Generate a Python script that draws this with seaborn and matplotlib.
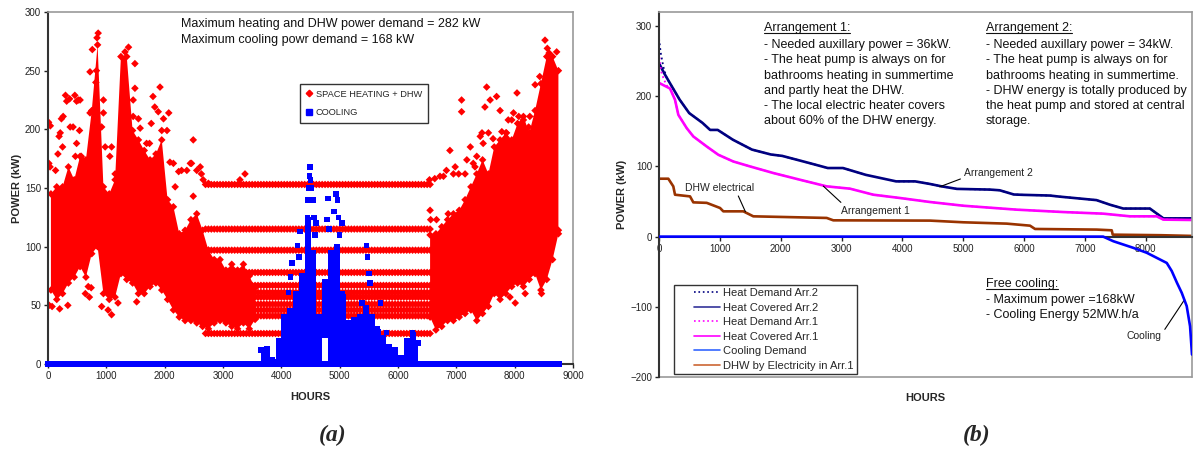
import numpy as np
import matplotlib
matplotlib.use('Agg')
import matplotlib.pyplot as plt
from matplotlib.lines import Line2D
from matplotlib.legend_handler import HandlerLine2D
import seaborn as sns

sns.set_style('white')
plt.rcParams['font.family'] = ['Liberation Sans', 'DejaVu Sans']

NA = np.nan

# ---------------- (a) hourly power demand ----------------
# dense part of the heating cloud, per 100 h bin (bottom / top of the solid area)
BIN_HOURS = list(range(50, 8800, 100))
HEAT_LOW = [63, 55, 60, 69, 74, 83, 74, 94, 100, 60,
            55, 57, 77, 72, 69, 60, 60, 66, 69, 63,
            55, 46, 40, 37, 37, 35, 32, 30, 35, 37,
            35, 32, 30, 35, 30, 38] + [NA] * 29 + \
           [40, 29, 32, 37, 37,
            40, 43, 46, 37, 43, 49, 60, 55, 60, 66,
            69, 66, 72, 77, 63, 72, 89, 111]
HEAT_HIGH = [145, 151, 151, 168, 157, 177, 174, 216, 272, 151,
             145, 157, 262, 262, 199, 191, 182, 174, 179, 191,
             140, 134, 111, 114, 123, 128, 114, 97, 89, 89,
             80, 85, 80, 85, 75, 65] + [NA] * 29 + \
            [110, 111, 117, 123, 128,
             131, 140, 151, 162, 174, 162, 185, 191, 197, 191,
             205, 211, 197, 216, 239, 262, 262, 250]
# scattered heating hours outside the dense part (hour, kW)
HEAT_EXTRA = [(10, 206), (40, 203), (15, 171), (35, 168), (20, 50), (70, 49),
              (130, 165), (170, 179), (190, 194), (230, 209), (260, 211), (210, 197),
              (250, 185), (200, 47), (300, 229), (320, 224), (370, 226), (380, 202),
              (340, 50), (430, 202), (460, 229), (490, 224), (490, 188), (470, 177),
              (520, 225), (550, 225), (540, 199), (570, 177), (600, 174), (640, 60),
              (690, 66), (660, 162), (720, 249), (720, 214), (760, 268), (710, 57),
              (740, 65), (840, 278), (860, 282), (830, 250), (820, 240), (950, 225),
              (950, 214), (920, 202), (980, 185), (920, 49), (1030, 46), (1090, 42),
              (1060, 177), (1090, 185), (1150, 162), (1200, 52), (1320, 266), (1380, 270),
              (1490, 256), (1490, 235), (1460, 225), (1460, 211), (1550, 209), (1580, 201),
              (1520, 53), (1690, 188), (1660, 151), (1800, 228), (1830, 219), (1770, 205),
              (1740, 188), (1920, 236), (1890, 215), (1950, 199), (1980, 209), (2040, 199),
              (2070, 214), (2090, 172), (2150, 171), (2180, 151), (2240, 164), (2290, 165),
              (2380, 165), (2440, 171), (2490, 191), (2460, 171), (2490, 143), (2550, 165),
              (2610, 168), (2660, 157), (2630, 162), (2750, 154), (3290, 157), (3377, 162),
              (6540, 157), (6550, 131), (6560, 123), (6630, 158), (6720, 160), (6660, 123),
              (6780, 160), (6830, 165), (6890, 182), (6860, 128), (6950, 162), (6980, 168),
              (7090, 225), (7090, 215), (7040, 162), (7150, 162), (7180, 174), (7240, 185),
              (7290, 171), (7320, 168), (7350, 177), (7410, 194), (7440, 197), (7460, 188),
              (7490, 219), (7520, 236), (7580, 225), (7550, 197), (7690, 228), (7630, 192),
              (7750, 216), (7780, 198), (7860, 197), (7890, 208), (7980, 214), (7950, 208),
              (7920, 57), (8040, 231), (8070, 211), (8010, 52), (8150, 208), (8180, 60),
              (8240, 202), (8260, 211), (8350, 238), (8380, 211), (8430, 245), (8460, 60),
              (8520, 276), (8560, 269), (8590, 265), (8720, 266), (8750, 114)]
# summer plateaus of the heating demand
BAND_LEVELS = [153, 115, 97, 78, 67, 61, 57, 51, 46, 41, 26]
BAND_HOURS = list(range(2700, 6551, 50))

# cooling, per 100 h bin
COOL_HOURS = list(range(3650, 6400, 100))
COOL_LOW = [0, 0, 0, 0, 0, 0, 0, 0, 0, 0, 0, 22, 0, 0,
            0, 0, 0, 0, 0, 0, 0, 0, 0, 0, 0, 0, 0, 0]
COOL_HIGH = [12, 13, 4, 20, 40, 45, 60, 75, 125, 95, 40, 70, 95, 100,
             60, 35, 38, 40, 48, 40, 30, 22, 15, 12, 5, 20, 27, 18]
COOL_EXTRA = [(4120, 61), (4160, 74), (4180, 86), (4300, 91), (4320, 113), (4280, 101),
              (4460, 140), (4470, 150), (4480, 160), (4490, 168), (4500, 157), (4520, 150),
              (4540, 140), (4560, 125), (4580, 110), (4590, 120), (4780, 123), (4800, 141),
              (4820, 115), (4900, 130), (4940, 145), (4960, 140), (4980, 125), (5000, 110),
              (5040, 120), (5380, 52), (5460, 101), (5480, 91), (5500, 77), (5520, 69),
              (5700, 52), (5800, 27)]
ZERO_HOURS = list(range(0, 8800, 40))

# ---------------- (b) duration curves ----------------
ARR2_COVER_H = [0, 90, 184, 340, 496, 715, 840, 965, 1215, 1527, 1838, 2025, 2462, 2774,
                3024, 3398, 3897, 4209, 4454, 4645, 4895, 5440, 5600, 5832, 5985, 6425,
                6580, 6971, 7190, 7410, 7630, 8068, 8290, 8760]
ARR2_COVER_V = [247, 232, 218, 195, 176, 162, 152, 152, 138, 124, 117, 115, 105, 97.7,
                97.7, 88, 78.7, 78.7, 75, 71.6, 68, 67, 66, 60, 59.5, 58.5,
                57, 53.8, 52, 45.5, 40, 40, 26, 26]
ARR2_DEMAND_HEAD_H = [0, 28, 71, 126]
ARR2_DEMAND_HEAD_V = [282, 262, 242, 226]
ARR1_COVER_H = [0, 181, 263, 318, 455, 564, 784, 975, 1222, 1496, 1879, 2318, 2756, 3139,
                3523, 3961, 4454, 5002, 5879, 6646, 7303, 7742, 8180, 8290, 8760]
ARR1_COVER_V = [219, 211, 195, 173.5, 154.6, 142.7, 128.4, 116.6, 107, 100, 90.6, 81, 71.6,
                68.3, 59.7, 55, 49.3, 44, 38.4, 35, 32.7, 28.9, 28.9, 24.2, 23.7]
ARR1_DEMAND_HEAD_H = [0, 15, 40, 80, 130]
ARR1_DEMAND_HEAD_V = [262, 248, 234, 224, 215]
DHW_H = [0, 153, 235, 263, 510, 564, 784, 1003, 1057, 1386, 1550, 2756, 2865, 4454, 5002,
         5715, 6098, 6180, 7194, 7441, 7457, 8250, 8760]
DHW_V = [82.5, 82.5, 71.6, 59.7, 57.3, 48.8, 48.1, 40.8, 36, 36, 28.9, 26.6, 23.2, 22.8,
         20.4, 18.5, 15.6, 10.9, 10, 9, 2.8, 2, 1]
COOL_DUR_H = [0, 7300, 7468, 7796, 8016, 8345, 8427, 8514, 8591, 8673, 8728, 8760]
COOL_DUR_V = [0, 0, -6.6, -16, -23, -37.5, -49, -66, -80, -99, -127.6, -168]

RED = '#FF0000'
BLUE = '#0000FF'
NAVY = '#000080'
MAGENTA = '#FF00FF'
BROWN = '#993300'
DARK = '#333333'
GREY = '#999999'


class ShortLine(HandlerLine2D):
    # legend line that leaves an empty gap on its left, as in the Excel legend
    def create_artists(self, legend, orig_handle, xdescent, ydescent, width, height,
                       fontsize, trans):
        gap = 12
        return super().create_artists(legend, orig_handle, xdescent - gap, ydescent,
                                      width - gap, height, fontsize, trans)


W, H = 1194, 451
fig = plt.figure(figsize=(W / 100, H / 100), dpi=100)
ax1 = fig.add_axes([48 / W, 1 - 364 / H, 525 / W, 352 / H])
ax2 = fig.add_axes([659 / W, 1 - 377 / H, 533 / W, 365 / H])

# ---- panel (a)
DS = 15
ax1.fill_between(BIN_HOURS, HEAT_LOW, HEAT_HIGH, color=RED, lw=0, zorder=2)
edge_h = BIN_HOURS + BIN_HOURS
edge_v = HEAT_LOW + HEAT_HIGH
sns.scatterplot(x=edge_h, y=edge_v, marker='D', s=DS, color=RED, edgecolor='none',
                linewidth=0, ax=ax1, zorder=2)
sns.scatterplot(x=[p[0] for p in HEAT_EXTRA], y=[p[1] for p in HEAT_EXTRA], marker='D',
                s=DS, color=RED, edgecolor='none', linewidth=0, ax=ax1, zorder=2)
for lev in BAND_LEVELS:
    sns.scatterplot(x=BAND_HOURS, y=[lev] * len(BAND_HOURS), marker='D', s=DS, color=RED,
                    edgecolor='none', linewidth=0, ax=ax1, zorder=2)

ax1.fill_between(COOL_HOURS, COOL_LOW, COOL_HIGH, step='mid', color=BLUE, lw=0, zorder=3)
sns.scatterplot(x=COOL_HOURS, y=COOL_HIGH, marker='s', s=16, color=BLUE, edgecolor='none',
                linewidth=0, ax=ax1, zorder=3)
sns.scatterplot(x=[p[0] for p in COOL_EXTRA], y=[p[1] for p in COOL_EXTRA], marker='s',
                s=16, color=BLUE, edgecolor='none', linewidth=0, ax=ax1, zorder=3)
sns.scatterplot(x=ZERO_HOURS, y=[0] * len(ZERO_HOURS), marker='s', s=20, color=BLUE,
                edgecolor='none', linewidth=0, ax=ax1, zorder=3, clip_on=False)

ax1.set_xlim(0, 9000)
ax1.set_ylim(0, 300)
ax1.set_xticks(range(0, 9001, 1000))
ax1.set_yticks(range(0, 301, 50))
ax1.set_xlabel('HOURS', fontsize=8, fontweight='bold', labelpad=8)
ax1.set_ylabel('POWER (kW)', fontsize=8, fontweight='bold', labelpad=2)

ax1.text(2280, 290, 'Maximum heating and DHW power demand = 282 kW', fontsize=9,
         va='center', color='#111111')
ax1.text(2280, 276, 'Maximum cooling powr demand = 168 kW', fontsize=9,
         va='center', color='#111111')

leg1_handles = [Line2D([], [], ls='none', marker='D', ms=3.3, color=RED),
                Line2D([], [], ls='none', marker='s', ms=4, color=BLUE)]
leg1 = ax1.legend(leg1_handles, ['SPACE HEATING + DHW', 'COOLING'], loc='upper left',
                  bbox_to_anchor=(0.48, 0.795), fontsize=6.7, frameon=True, fancybox=False,
                  edgecolor='black', handlelength=0.8, handletextpad=0.3, labelspacing=1.0,
                  borderpad=0.6, borderaxespad=0)
leg1.get_frame().set_linewidth(1.0)
leg1.set_zorder(5)

# ---- panel (b)
sns.lineplot(x=ARR2_DEMAND_HEAD_H + ARR2_COVER_H[2:], y=ARR2_DEMAND_HEAD_V + ARR2_COVER_V[2:],
             sort=False, estimator=None, color=NAVY, lw=1.3, linestyle=':', ax=ax2)
sns.lineplot(x=ARR2_COVER_H, y=ARR2_COVER_V, sort=False, estimator=None, color=NAVY, lw=1.9,
             ax=ax2)
sns.lineplot(x=ARR1_DEMAND_HEAD_H + ARR1_COVER_H[1:], y=ARR1_DEMAND_HEAD_V + ARR1_COVER_V[1:],
             sort=False, estimator=None, color=MAGENTA, lw=1.3, linestyle=':', ax=ax2)
sns.lineplot(x=ARR1_COVER_H, y=ARR1_COVER_V, sort=False, estimator=None, color=MAGENTA,
             lw=1.9, ax=ax2)
sns.lineplot(x=COOL_DUR_H, y=COOL_DUR_V, sort=False, estimator=None, color=BLUE, lw=1.9,
             ax=ax2, zorder=4)
sns.lineplot(x=DHW_H, y=DHW_V, sort=False, estimator=None, color=BROWN, lw=1.9, ax=ax2)

ax2.set_xlim(0, 8760)
ax2.set_ylim(-200, 320)
ax2.set_xticks(range(0, 8001, 1000))
ax2.set_yticks(range(-200, 301, 100))
ax2.spines['bottom'].set_position(('data', 0))
ax2.axhline(-200, color=GREY, lw=1.2, clip_on=False, zorder=1)
ax2.set_xlabel('HOURS', fontsize=8, fontweight='bold')
ax2.xaxis.set_label_coords(0.5, -0.045)
ax2.set_ylabel('POWER (kW)', fontsize=8, fontweight='bold', labelpad=2)

leg2_handles = [Line2D([], [], color=NAVY, lw=1.2, ls=':'),
                Line2D([], [], color='#333399', lw=1.2),
                Line2D([], [], color=MAGENTA, lw=1.2, ls=':'),
                Line2D([], [], color=MAGENTA, lw=1.2),
                Line2D([], [], color='#3366FF', lw=1.2),
                Line2D([], [], color='#CC6633', lw=1.2)]
leg2_labels = ['Heat Demand Arr.2', 'Heat Covered Arr.2', 'Heat Demand Arr.1',
               'Heat Covered Arr.1', 'Cooling Demand', 'DHW by Electricity in Arr.1']
leg2 = ax2.legend(leg2_handles, leg2_labels, loc='upper left', bbox_to_anchor=(0.028, 0.252),
                  fontsize=8, frameon=True, fancybox=False, edgecolor='black',
                  handlelength=3.85, handletextpad=0.25, labelspacing=0.4, borderpad=0.3,
                  borderaxespad=0, handler_map={Line2D: ShortLine()})
leg2.get_frame().set_linewidth(1.0)

block1 = ('- Needed auxillary power = 36kW.\n- The heat pump is always on for\n'
          'bathrooms heating in summertime\nand partly heat the DHW.\n'
          '- The local electric heater covers\nabout 60% of the DHW energy.')
block2 = ('- Needed auxillary power = 34kW.\n- The heat pump is always on for\n'
          'bathrooms heating in summertime.\n- DHW energy is totally produced by\n'
          'the heat pump and stored at central\nstorage.')
block3 = '- Maximum power =168kW\n- Cooling Energy 52MW.h/a'
heads = []
heads.append(ax2.text(1726, 297, 'Arrangement 1:', fontsize=9, va='center', color='#111111'))
ax2.text(1726, 281.5, block1, fontsize=9, va='top', linespacing=1.36, color='#111111')
heads.append(ax2.text(5375, 297, 'Arrangement 2:', fontsize=9, va='center', color='#111111'))
ax2.text(5375, 281.5, block2, fontsize=9, va='top', linespacing=1.36, color='#111111')
heads.append(ax2.text(5375, -67, 'Free cooling:', fontsize=9, va='center', color='#111111'))
ax2.text(5375, -81.5, block3, fontsize=9, va='top', linespacing=1.36, color='#111111')

arrow = dict(arrowstyle='-', color='black', lw=0.8, shrinkA=0, shrinkB=0)
ax2.annotate('Arrangement 2', xy=(4614, 71), xytext=(5008, 91), fontsize=7.5, va='center',
             color='#222222', arrowprops=dict(arrow, relpos=(0, 0)))
ax2.annotate('Arrangement 1', xy=(2700, 72), xytext=(2991, 37), fontsize=7.5, va='center',
             color='#222222', arrowprops=dict(arrow, relpos=(0.05, 1)))
ax2.annotate('DHW electrical', xy=(1420, 35.5), xytext=(427, 69.7), fontsize=7.5,
             va='center', color='#222222', arrowprops=dict(arrow, relpos=(0.75, 0)))
ax2.annotate('Cooling', xy=(8639, -89.6), xytext=(7684, -142), fontsize=7.5, va='center',
             color='#222222', arrowprops=dict(arrow, relpos=(1, 0.7)))

for ax in (ax1, ax2):
    ax.tick_params(axis='both', direction='out', length=3, width=1, labelsize=7,
                   colors='#222222', pad=2)
    ax.spines['left'].set_color(DARK)
    ax.spines['left'].set_linewidth(1.5)
    ax.spines['bottom'].set_color(DARK)
    ax.spines['bottom'].set_linewidth(1.5)
    ax.spines['top'].set_color(GREY)
    ax.spines['right'].set_color(GREY)
    ax.spines['top'].set_linewidth(1.2)
    ax.spines['right'].set_linewidth(1.2)
    ax.tick_params(axis='x', bottom=True)
    ax.tick_params(axis='y', left=True)

fig.text(333 / W, 1 - 435 / H, '(a)', fontsize=17, fontweight='bold', style='italic',
         family='Liberation Serif', ha='center', va='center')
fig.text(977 / W, 1 - 435 / H, '(b)', fontsize=17, fontweight='bold', style='italic',
         family='Liberation Serif', ha='center', va='center')

# underline the block headings
fig.canvas.draw()
rend = fig.canvas.get_renderer()
for t in heads:
    bb = t.get_window_extent(rend)
    fig.add_artist(Line2D([bb.x0 / W, bb.x1 / W], [(bb.y0 + 1) / H, (bb.y0 + 1) / H],
                          color='#111111', lw=0.8))

fig.savefig('out.png', dpi=100)
